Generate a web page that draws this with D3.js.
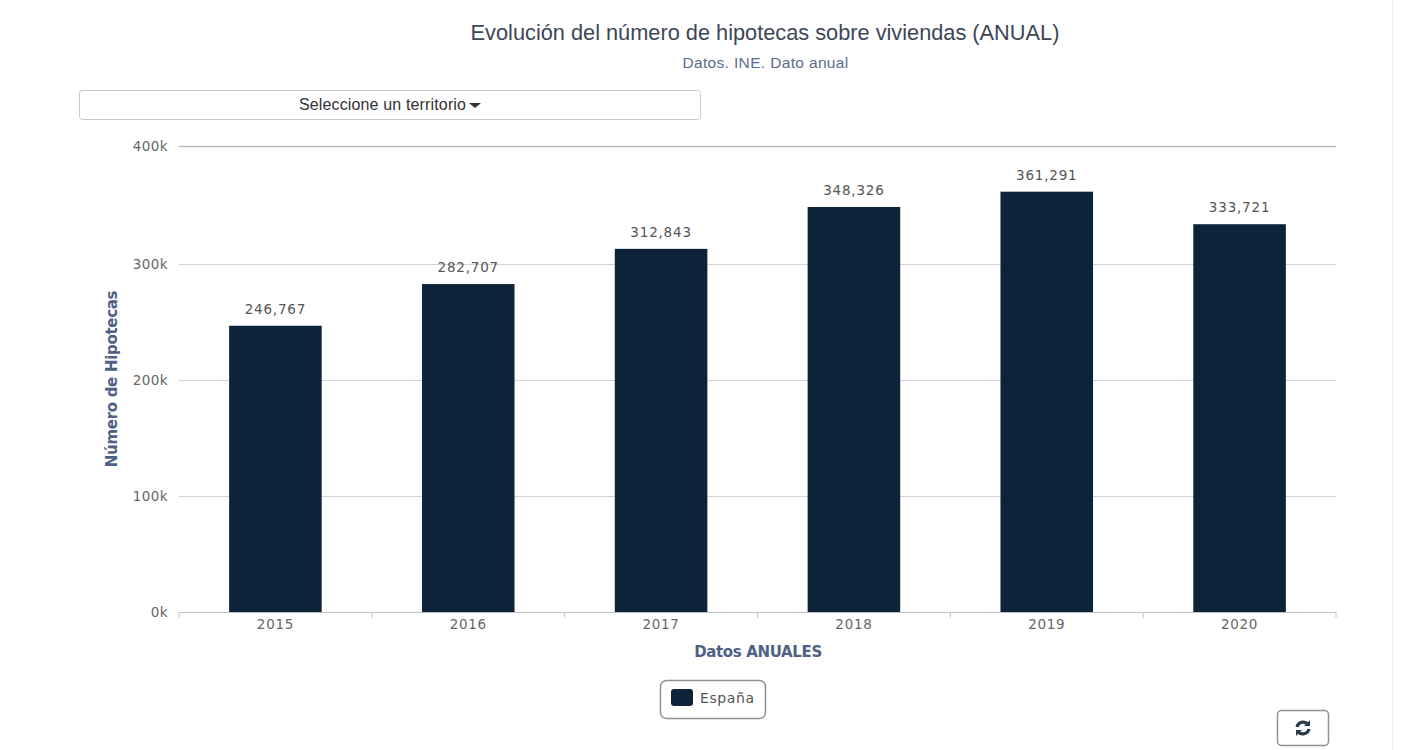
<!DOCTYPE html>
<html>
<head>
<meta charset="utf-8">
<script src="https://cdn.jsdelivr.net/npm/d3@7"></script>
<style>
  html, body { margin: 0; padding: 0; background: #fff; overflow: hidden; }
  svg { display: block; }
  text { font-family: "DejaVu Sans", sans-serif; }
</style>
</head>
<body>
<div id="chart"></div>
<script>
// data
var years = ["2015", "2016", "2017", "2018", "2019", "2020"];
var hipotecas = [246767, 282707, 312843, 348326, 361291, 333721];
var yTicks = [0, 100000, 200000, 300000, 400000];

var margin = {top: 146, right: 85, bottom: 138, left: 179},
    totalW = 1421,
    totalH = 750,
    width = totalW - margin.left - margin.right,
    height = totalH - margin.top - margin.bottom;

var navy = "#0d233a", axisGrey = "#c0c4c8", labelGrey = "#666", titleBlue = "#4d6185";

var root = d3.select("#chart").append("svg")
    .attr("width", totalW)
    .attr("height", totalH);

// faint page edge on the right
root.append("line")
    .attr("x1", 1392.5).attr("x2", 1392.5).attr("y1", 0).attr("y2", totalH)
    .attr("stroke", "#eeeeee");

root.append("text")
    .attr("x", 765).attr("y", 40)
    .attr("text-anchor", "middle")
    .style("font-family", "'Liberation Sans', sans-serif")
    .style("font-size", "21.75px")
    .attr("fill", "#3d4656")
    .text("Evolución del número de hipotecas sobre viviendas (ANUAL)");

root.append("text")
    .attr("x", 765.5).attr("y", 68)
    .attr("text-anchor", "middle")
    .style("font-family", "'Liberation Sans', sans-serif")
    .style("font-size", "15.5px")
    .style("letter-spacing", "0.35px")
    .attr("fill", "#5a6d8c")
    .text("Datos. INE. Dato anual");

// territory selector
root.append("rect")
    .attr("x", 79.5).attr("y", 90.5).attr("width", 621).attr("height", 29).attr("rx", 3)
    .attr("fill", "#fff").attr("stroke", "#c8c8c8");
root.append("text")
    .attr("x", 382.5).attr("y", 110)
    .attr("text-anchor", "middle")
    .style("font-family", "'Liberation Sans', sans-serif")
    .style("font-size", "16px")
    .style("letter-spacing", "0.15px")
    .attr("fill", "#333")
    .text("Seleccione un territorio");
root.append("path")
    .attr("d", "M469 103h12l-6 5z")
    .attr("fill", "#333");

var svg = root.append("g")
    .attr("transform", "translate(" + margin.left + "," + margin.top + ")");

var x = d3.scaleBand().domain(years).range([0, width]).paddingInner(0).paddingOuter(0);
// the top band of the picture is a little stretched, so 300k is pinned to its own spot
var y = d3.scaleLinear().domain([0, 300000, 400000]).range([height, 118, 0]);
var barW = x.bandwidth() * 0.48;

// gridlines
svg.append("g").selectAll("line")
    .data(yTicks.filter(function(d) { return d > 0; }))
    .enter().append("line")
    .attr("x1", 0).attr("x2", width)
    .attr("y1", function(d) { return Math.round(y(d)) + 0.5; })
    .attr("y2", function(d) { return Math.round(y(d)) + 0.5; })
    .attr("stroke-width", function(d) { return d === 400000 ? 1.5 : 1; })
    .attr("stroke", function(d) { return d === 400000 ? "#b5b9bd" : "#d0d3d6"; });

// y axis labels
var yAxis = d3.axisLeft(y)
    .tickValues(yTicks)
    .tickSize(0)
    .tickPadding(11)
    .tickFormat(function(d) { return (d / 1000) + "k"; });
var yG = svg.append("g").call(yAxis);
yG.select(".domain").remove();
yG.selectAll("text")
    .style("font-size", "13.5px")
    .style("letter-spacing", "0.4px")
    .attr("fill", labelGrey);

// bars
svg.selectAll("rect.bar")
    .data(hipotecas)
    .enter().append("rect")
    .attr("class", "bar")
    .attr("x", function(d, i) { return x(years[i]) + (x.bandwidth() - barW) / 2; })
    .attr("y", function(d) { return y(d); })
    .attr("width", barW)
    .attr("height", function(d) { return height - y(d); })
    .attr("fill", navy);

// value labels
svg.selectAll("text.val")
    .data(hipotecas)
    .enter().append("text")
    .attr("class", "val")
    .attr("x", function(d, i) { return x(years[i]) + x.bandwidth() / 2; })
    .attr("y", function(d) { return y(d) - 12; })
    .attr("text-anchor", "middle")
    .style("font-size", "13.5px")
    .style("letter-spacing", "0.8px")
    .attr("fill", "#555")
    .text(d3.format(","));

// x axis
var xAxis = d3.axisBottom(x).tickSize(0).tickPadding(7);
var xG = svg.append("g")
    .attr("transform", "translate(0," + height + ")")
    .call(xAxis);
xG.select(".domain").attr("stroke", axisGrey);
xG.selectAll("text")
    .style("font-size", "13.5px")
    .style("letter-spacing", "0.7px")
    .attr("fill", labelGrey);
// ticks sit between the categories
svg.append("g").selectAll("line")
    .data(d3.range(years.length + 1))
    .enter().append("line")
    .attr("x1", function(i) { return i * x.step(); })
    .attr("x2", function(i) { return i * x.step(); })
    .attr("y1", height).attr("y2", height + 6)
    .attr("stroke", axisGrey);

// axis titles
root.append("text")
    .attr("x", 758).attr("y", 657)
    .attr("text-anchor", "middle")
    .style("font-size", "15px")
    .style("font-weight", "bold")
    .style("letter-spacing", "-0.35px")
    .attr("fill", titleBlue)
    .text("Datos ANUALES");

root.append("text")
    .attr("transform", "translate(117,379) rotate(-90)")
    .attr("text-anchor", "middle")
    .style("font-size", "15px")
    .style("font-weight", "bold")
    .style("letter-spacing", "-0.3px")
    .attr("fill", titleBlue)
    .text("Número de Hipotecas");

// legend
root.append("rect")
    .attr("x", 660.5).attr("y", 680.5).attr("width", 105).attr("height", 38).attr("rx", 6)
    .attr("fill", "#fff").attr("stroke", "#909090").attr("stroke-width", 1.5);
root.append("rect")
    .attr("x", 671).attr("y", 689).attr("width", 22).attr("height", 17).attr("rx", 3)
    .attr("fill", navy);
root.append("text")
    .attr("x", 700).attr("y", 703)
    .style("font-size", "14px")
    .style("letter-spacing", "0.6px")
    .attr("fill", "#555")
    .text("España");

// refresh button
root.append("rect")
    .attr("x", 1277.5).attr("y", 710.5).attr("width", 51).attr("height", 35).attr("rx", 4)
    .attr("fill", "#fff").attr("stroke", "#909090").attr("stroke-width", 1.5);
var icon = root.append("g")
    .attr("transform", "translate(1303,728)")
    .attr("fill", "none").attr("stroke", "#2b3a4a").attr("stroke-width", 3.2);
icon.append("path").attr("d", "M-6 -1A6.2 6.2 0 0 1 5 -3.5");
icon.append("path").attr("d", "M6 1A6.2 6.2 0 0 1 -5 3.5");
icon.append("path").attr("d", "M7 -8v6h-6z").attr("fill", "#2b3a4a").attr("stroke", "none");
icon.append("path").attr("d", "M-7 8v-6h6z").attr("fill", "#2b3a4a").attr("stroke", "none");
</script>
</body>
</html>
